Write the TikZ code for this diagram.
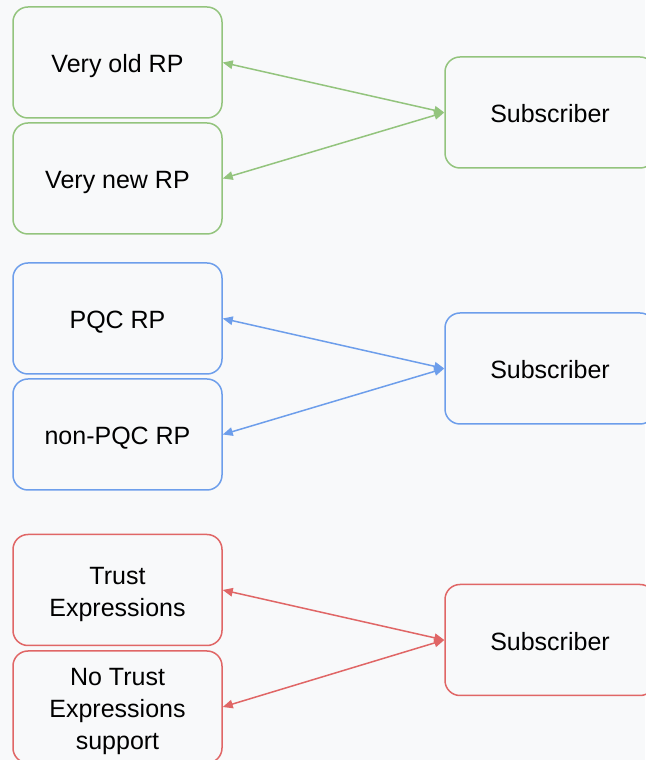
\documentclass[tikz,border=0pt]{standalone}
\usepackage{fontspec}
\setmainfont{Liberation Sans}
\usetikzlibrary{arrows.meta}
\definecolor{bg}{HTML}{F8F9FA}
\definecolor{grn}{HTML}{93C47D}
\definecolor{blu}{HTML}{6D9EEB}
\definecolor{rd}{HTML}{E06666}
% box label: strut-spaced lines with extra room on top, so the text sits a little low
\newcommand\boxtext[1]{\raisebox{0pt}[\dimexpr\height+8pt\relax][\depth]{\begin{tabular}{@{}c@{}}#1\end{tabular}}}
\tikzset{
  box/.style={draw=#1, line width=1.5pt, rounded corners=15pt, fill=bg,
    minimum width=209pt, minimum height=111pt, inner sep=4pt,
    font=\fontsize{25}{32}\selectfont, text=black},
  tip/.tip={Triangle[length=10pt,width=8.5pt]},
  link/.style={draw=#1, line width=1.5pt, tip-tip}
}
\begin{document}
\begin{tikzpicture}[x=1pt,y=1pt]
  \fill[bg] (0,0) rectangle (645,760);
  \useasboundingbox (0,0) rectangle (645,760);
  % green group
  \node[box=grn] (old) at (117.5,697.5) {\boxtext{Very old RP}};
  \node[box=grn] (new) at (117.5,581.5) {\boxtext{Very new RP}};
  \node[box=grn,minimum width=210pt] (subA) at (550,647.5) {\boxtext{Subscriber}};
  \draw[link=grn] (old.east) -- (subA.west);
  \draw[link=grn] (new.east) -- (subA.west);
  % blue group
  \node[box=blu] (pqc) at (117.5,441.5) {\boxtext{PQC RP}};
  \node[box=blu] (npqc) at (117.5,325.5) {\boxtext{non-PQC RP}};
  \node[box=blu,minimum width=210pt] (subB) at (550,391.5) {\boxtext{Subscriber}};
  \draw[link=blu] (pqc.east) -- (subB.west);
  \draw[link=blu] (npqc.east) -- (subB.west);
  % red group
  \node[box=rd] (te) at (117.5,170) {\boxtext{Trust\\Expressions}};
  \node[box=rd] (nte) at (117.5,53) {\boxtext{No Trust\\Expressions\\support}};
  \node[box=rd,minimum width=210pt] (subC) at (550,120) {\boxtext{Subscriber}};
  \draw[link=rd] (te.east) -- (subC.west);
  \draw[link=rd] (nte.east) -- (subC.west);
\end{tikzpicture}
\end{document}
